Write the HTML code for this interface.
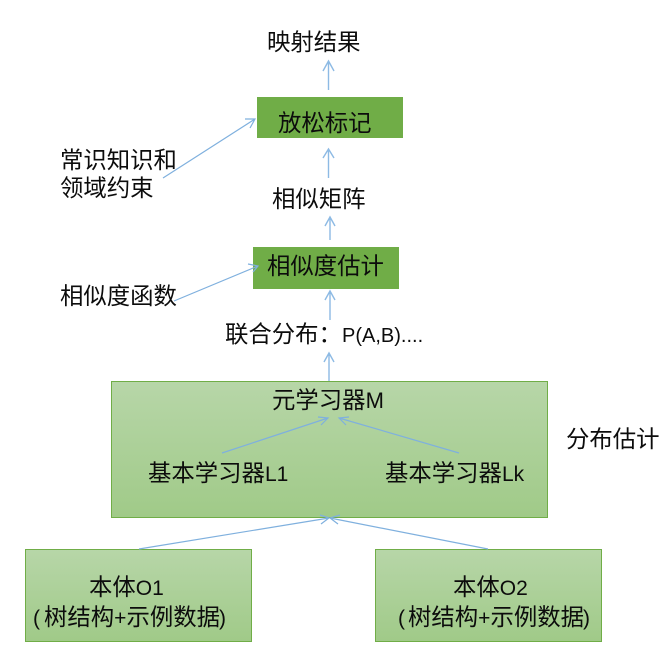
<!DOCTYPE html>
<html><head><meta charset="utf-8"><style>
html,body{margin:0;padding:0;background:#fff;width:669px;height:653px;overflow:hidden}
svg{display:block}
text{font-family:"Liberation Sans","Noto Sans CJK SC",sans-serif;font-size:23.4px;fill:#0c0c0c}
.l{stroke:#7fb0de;stroke-width:1.2;fill:none}
.v{stroke:#8dbae4;stroke-width:1.4;fill:none}
</style></head><body>
<svg width="669" height="653" viewBox="0 0 669 653">
<defs><linearGradient id="g" x1="0" y1="0" x2="0" y2="1"><stop offset="0" stop-color="#b7d6a8"/><stop offset="1" stop-color="#a0ca88"/></linearGradient></defs>
<rect x="257" y="97" width="146" height="41" fill="#70ad47"/>
<rect x="253" y="247" width="146" height="42" fill="#70ad47"/>
<rect x="111.5" y="381.5" width="436" height="136" fill="url(#g)" stroke="#70ad47"/>
<rect x="25.5" y="549.5" width="226" height="92" fill="url(#g)" stroke="#70ad47"/>
<rect x="375.500" y="549.5" width="226" height="92" fill="url(#g)" stroke="#70ad47"/>

<path class="v" d="M328.500 90V61M323 71L328.500 61L334 71"/>
<path class="v" d="M328.500 178V149M323 158L328.500 149L334 158"/>
<path class="v" d="M330 240V217M325 226L330 217L335 226"/>
<path class="v" d="M330 320V291M325 300L330 291L335 300"/>
<path class="v" d="M329 381V353M324 362L329 353L334 362"/>
<path class="l" d="M163 178L255 119M245 119L255 119L250 128"/>
<path class="l" d="M174 301L258 266M248 264L258 266L253 272"/>
<path class="l" d="M222 453L328 418M318 417L328 418L321 425"/>
<path class="l" d="M459 453L339 418M349 417L339 418L346 425"/>
<path class="l" d="M139 549L329 518M320 515L329 518L321 524"/>
<path class="l" d="M488 549L330 518M340 515L330 518L338 524"/>

<text x="267" y="50">映射结果</text>
<text x="278" y="131">放松标记</text>
<text x="272" y="207">相似矩阵</text>
<text x="267" y="274">相似度估计</text>
<text x="60" y="168">常识知识和</text>
<text x="60" y="196">领域约束</text>
<text x="60" y="304">相似度函数</text>
<text x="225" y="342">联合分布：</text>
<text x="342" y="342" style="font-size:20px">P(A,B)....</text>
<text x="272" y="408">元学习器<tspan style="font-size:22px">M</tspan></text>
<text x="148" y="481">基本学习器<tspan style="font-size:21px">L1</tspan></text>
<text x="385" y="481">基本学习器<tspan style="font-size:21px">Lk</tspan></text>
<text x="566" y="447">分布估计</text>
<text x="89" y="595">本体<tspan style="font-size:21px">O1</tspan></text>
<text x="33" y="625" style="font-size:21px">(</text><text x="44" y="625">树结构<tspan style="font-size:21px">+</tspan>示例数据</text><text x="219" y="625" style="font-size:21px">)</text>
<text x="453" y="595">本体<tspan style="font-size:21px">O2</tspan></text>
<text x="398" y="625" style="font-size:21px">(</text><text x="408" y="625">树结构<tspan style="font-size:21px">+</tspan>示例数据</text><text x="583" y="625" style="font-size:21px">)</text>
</svg>
</body></html>
